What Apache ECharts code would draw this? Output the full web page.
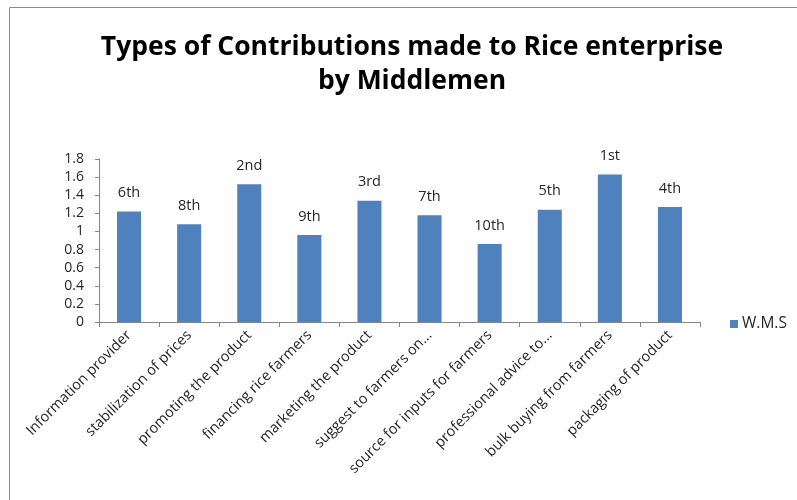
<!DOCTYPE html>
<html>
<head>
<meta charset="utf-8">
<script src="https://cdn.jsdelivr.net/npm/echarts@6/dist/echarts.min.js"></script>
<style>
  html, body { margin: 0; padding: 0; background: #fff; }
  #chart { width: 797px; height: 500px; }
</style>
</head>
<body>
<div id="chart"></div>
<script>
// contributions, weighted mean score and rank
const categories = [
  'Information provider',
  'stabilization of prices',
  'promoting the product',
  'financing rice farmers',
  'marketing the product',
  'suggest to farmers on...',
  'source for inputs for farmers',
  'professional advice to...',
  'bulk buying from farmers',
  'packaging of product'
]
const wmsValues = [1.22, 1.08, 1.52, 0.96, 1.34, 1.18, 0.86, 1.24, 1.63, 1.27]
const rankLabels = ['6th', '8th', '2nd', '9th', '3rd', '7th', '10th', '5th', '1st', '4th']
const yTicks = ['0', '0.2', '0.4', '0.6', '0.8', '1', '1.2', '1.4', '1.6', '1.8']

const font = 'Open Sans, Liberation Sans, sans-serif'
const textColor = '#262626'
const chart = echarts.init(document.getElementById('chart'))

const option = {
  animation: false,
  textStyle: { fontFamily: font },
  graphic: [
    {
      type: 'rect',
      shape: { x: 9.5, y: 7.5, width: 900, height: 600 },
      style: { fill: 'none', stroke: '#8c8c8c', lineWidth: 1 }
    }
  ],
  title: {
    text: 'Types of Contributions made to Rice enterprise\nby Middlemen',
    left: 407,
    textAlign: 'center',
    top: 25,
    textStyle: {
      fontFamily: font,
      fontSize: 26.5,
      fontWeight: 'bold',
      color: '#000',
      lineHeight: 34
    }
  },
  legend: {
    data: ['W.M.S'],
    orient: 'vertical',
    left: 725,
    top: 311,
    itemWidth: 8,
    itemHeight: 8,
    itemGap: 4,
    icon: 'rect',
    textStyle: { fontSize: 15.5, color: textColor, fontFamily: font, padding: [0, 0, 0, -1] }
  },
  grid: {
    left: 99,
    right: 97,
    top: 159,
    bottom: 178
  },
  xAxis: {
    type: 'category',
    data: categories,
    axisLine: { lineStyle: { color: '#868686' } },
    axisTick: { show: true, length: 5, lineStyle: { color: '#868686' } },
    axisLabel: {
      rotate: 45,
      interval: 0,
      fontSize: 14.5,
      color: textColor,
      margin: 11
    }
  },
  yAxis: {
    type: 'value',
    min: 0,
    max: 1.8,
    interval: 0.2,
    splitLine: { show: false },
    axisLine: { show: true, lineStyle: { color: '#868686' } },
    axisTick: { show: true, length: 4, lineStyle: { color: '#868686' } },
    axisLabel: {
      fontSize: 14,
      color: textColor,
      margin: 15,
      formatter: (v) => yTicks[Math.round(v / 0.2)]
    }
  },
  series: [
    {
      name: 'W.M.S',
      type: 'bar',
      data: wmsValues,
      barWidth: '40%',
      itemStyle: { color: '#4f81bd' },
      label: {
        show: true,
        position: 'top',
        distance: 11,
        fontSize: 14.5,
        color: textColor,
        formatter: (p) => rankLabels[p.dataIndex]
      }
    }
  ]
}

chart.setOption(option)
</script>
</body>
</html>
